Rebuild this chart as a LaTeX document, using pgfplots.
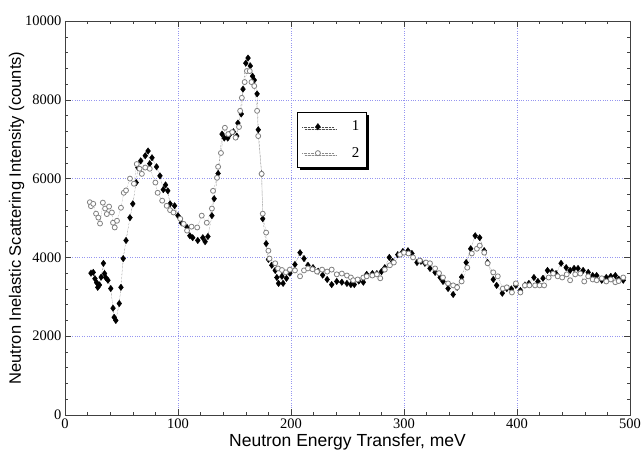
\documentclass[border=0pt]{standalone}
\usepackage{pgfplots}
\pgfplotsset{compat=1.18}
\usepackage{fontspec}
\setmainfont{Liberation Serif}
\newfontfamily\arialfont{Liberation Sans}
\usetikzlibrary{shadows}
\definecolor{gridblue}{RGB}{150,150,240}
\begin{document}
\begin{tikzpicture}
\begin{axis}[
  scale only axis,
  width=565pt, height=394pt,
  xmin=0, xmax=500, ymin=0, ymax=10000,
  xtick={0,100,...,500}, ytick={0,2000,...,10000},
  minor x tick num=4, minor y tick num=4,
  major tick length=6pt, minor tick length=3pt,
  tick style={black!75, line width=0.5pt},
  axis line style={black!75, line width=0.8pt},
  grid=major,
  major grid style={gridblue, dotted, line width=0.4pt},
  /pgf/number format/assume math mode=true,
  scaled y ticks=false,
  yticklabel style={/pgf/number format/1000 sep={}},
  ticklabel style={font=\rmfamily\fontsize{14.5}{16}\selectfont},
  xlabel={Neutron Energy Transfer, meV},
  ylabel={Neutron Inelastic Scattering Intensity (counts)},
  xlabel style={font=\arialfont\fontsize{17.5}{19}\selectfont, yshift=1pt},
  ylabel style={font=\arialfont\fontsize{16.5}{18}\selectfont, yshift=-6pt},
  legend style={at={(axis cs:205,7700)}, anchor=north west,
    font=\rmfamily\fontsize{15}{17}\selectfont, draw=black, line width=0.8pt,
    drop shadow={shadow xshift=2.5pt, shadow yshift=-2.5pt, fill=black, opacity=1},
    fill=white, inner xsep=5pt, inner ysep=7pt, row sep=11pt},
  legend cell align=left,
  legend image code/.code={\draw[mark repeat=2,mark phase=2] plot coordinates {(0cm,0cm) (0.55cm,0cm) (1.1cm,0cm)};},
]
\coordinate (ll) at (rel axis cs:0,0);
\addplot[black!70, densely dotted, line width=0.4pt, mark=diamond*, mark size=3.2pt,
  mark options={solid, fill=black, draw=black}] coordinates {
(23,3600)(25,3620)(26.5,3460)(28,3360)(29,3240)(30.5,3300)(32,3500)(34,3850)(35,3590)(36,3490)(38,3420)(40.5,3210)(42.5,2710)(43.5,2480)(45,2400)(48,2830)(49.5,3240)(51.5,3970)(54,4430)(57.5,5010)(60,5360)(63,5900)(64.5,6280)(67,6450)(71,6580)(73.5,6700)(75,6380)(77,6530)(81,6300)(84,6070)(87,5720)(89,5840)(91,5690)(93,5360)(97,5310)(100,5060)(103,4880)(108,4760)(110.5,4550)(113,4500)(117.5,4430)(122,4500)(124,4400)(126.5,4530)(130,5060)(132,5490)(135.5,6130)(139,7130)(141,7030)(144,7030)(146,7130)(149,7190)(152,7080)(153,7410)(156,7640)(157.5,8270)(160,8930)(162,9060)(164,8860)(166,8600)(167.5,8500)(170,8150)(171,7240)(174,6120)(175,4980)(178,4350)(180,3950)(183,3800)(186,3670)(187.5,3490)(189,3340)(192,3520)(193,3340)(196,3470)(199,3600)(203.5,3820)(208,4120)(211.5,3970)(215,3800)(219.5,3740)(224,3650)(228,3550)(232,3440)(236,3310)(240.5,3390)(245,3370)(249.5,3340)(253,3310)(256,3310)(260,3400)(264,3370)(267,3570)(272,3590)(276,3590)(280,3640)(283,3740)(287,4000)(290,3900)(294.5,4070)(299,4150)(303.5,4170)(307,4100)(311.5,3870)(315,3900)(318.5,3850)(323,3720)(327.5,3620)(332,3490)(334.5,3390)(339,3210)(343.5,3060)(347,3240)(351,3500)(355,3870)(359,4220)(363,4550)(367,4500)(371,4170)(374,3870)(379,3440)(382,3290)(387,3090)(391,3210)(395,3200)(399,3290)(403,3160)(407,3300)(410.5,3340)(415,3490)(418.5,3390)(423,3470)(427,3670)(431,3640)(434.5,3590)(439,3850)(443.5,3740)(447,3670)(450.5,3720)(454,3720)(458.5,3670)(463,3620)(467,3540)(470.5,3540)(475,3420)(479,3490)(483,3520)(487,3540)(490,3450)(494,3420)
};
\addlegendentry{\hspace{16pt}1}
\addplot[black!45, densely dotted, line width=0.4pt, mark=*, mark size=2.5pt,
  mark options={solid, fill=white, draw=black!50, line width=0.8pt}] coordinates {
(22,5400)(23,5300)(25,5360)(27.5,5110)(29.5,5010)(31,4860)(33.5,5390)(35.5,5240)(37,5100)(39,5290)(41.5,5140)(42.5,4880)(44,4760)(46,4930)(49.5,5260)(52,5640)(54,5700)(57.5,6000)(61,5870)(63.5,6370)(66,6250)(68,6120)(71,6280)(75,6250)(80,5900)(82,5640)(86,5440)(90,5310)(93,5200)(96,5140)(102,4980)(105,4850)(108,4680)(112,4780)(117,4760)(121,5060)(125.5,4880)(130,5240)(131,5690)(134.5,6020)(135.5,6300)(138,6650)(141.5,7290)(144.5,7130)(148,7180)(151,7040)(154,7310)(155,7720)(156.5,8050)(159,8450)(161,8730)(163.5,8730)(165,8450)(167.5,8350)(170,7720)(171,7080)(174,6120)(175,5110)(178,4630)(180,4170)(181,3970)(186,3850)(188.5,3720)(192,3680)(195.5,3620)(199,3690)(203.5,3670)(208,3520)(211.5,3670)(215,3720)(219,3700)(223,3640)(227.5,3690)(232,3640)(236,3690)(240.5,3570)(245,3590)(249.5,3540)(253,3490)(255,3420)(259,3440)(264,3490)(267,3520)(272,3540)(276,3570)(279,3470)(283,3690)(287.5,3800)(291,3870)(296.5,4070)(300,4120)(304,4100)(308,4000)(314,3920)(319.5,3870)(323,3850)(327.5,3720)(331,3600)(334.5,3490)(339,3340)(343.5,3290)(347,3240)(351,3390)(356,3740)(360,4100)(364.5,4220)(367,4300)(371,4120)(374,3850)(379,3620)(383,3520)(387.5,3210)(391,3240)(395.5,3110)(399,3340)(403,3110)(407,3290)(411,3290)(416,3290)(420,3290)(424,3290)(428,3490)(432,3590)(436,3520)(440,3490)(444,3570)(447,3420)(451.5,3570)(456,3590)(459.5,3390)(463,3520)(467,3440)(470.5,3420)(475,3470)(479,3390)(483,3440)(487,3370)(490,3400)(494,3490)
};
\addlegendentry{\hspace{16pt}2}
\end{axis}
\pgfresetboundingbox
\path (ll) ++(-65pt,-43pt) rectangle ++(644pt,458pt);
\end{tikzpicture}
\end{document}
